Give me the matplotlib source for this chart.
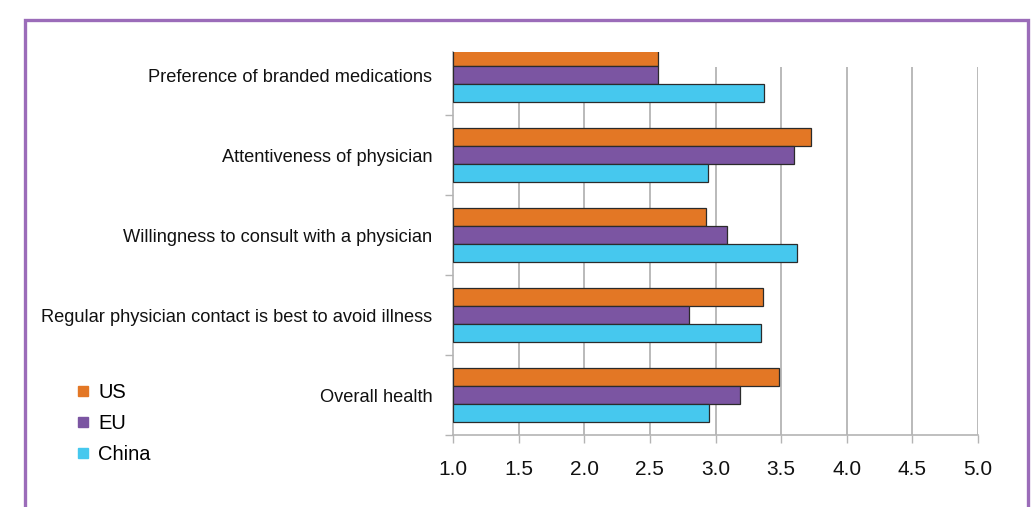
import matplotlib
matplotlib.use("Agg")
import matplotlib.pyplot as plt
from matplotlib.lines import Line2D
import numpy as np

plt.rcParams['font.family'] = ['Liberation Sans', 'DejaVu Sans']

categories = [
    "Preference of branded medications",
    "Attentiveness of physician",
    "Willingness to consult with a physician",
    "Regular physician contact is best to avoid illness",
    "Overall health",
]
series_names = ["US", "EU", "China"]
us_values = [2.56, 3.73, 2.93, 3.36, 3.48]
eu_values = [2.56, 3.60, 3.09, 2.80, 3.19]
china_values = [3.37, 2.94, 3.62, 3.35, 2.95]
x_ticks = [1.0, 1.5, 2.0, 2.5, 3.0, 3.5, 4.0, 4.5, 5.0]

colors = ["#E37725", "#7B55A2", "#46C8EE"]
edge = "#2b2b2b"
grid_color = "#b4b4b4"

W, H = 1032, 507
fig = plt.figure(figsize=(W / 100, H / 100), dpi=100)

# axes box in pixel terms: x 453..978, y 52..435
left, right, top, bottom = 453, 978, 52, 435
ax = fig.add_axes([left / W, 1 - bottom / H, (right - left) / W, (bottom - top) / H])

n = len(categories)
y = np.arange(n)
bar_h = 0.225
offsets = [-bar_h, 0.0, bar_h]
for vals, off, c, name in zip([us_values, eu_values, china_values], offsets, colors, series_names):
    ax.barh(y + off, np.array(vals) - 1.0, left=1.0, height=bar_h, color=c,
            edgecolor=edge, linewidth=0.9, zorder=3, label=name)

ax.set_xlim(1.0, 5.0)
ax.set_ylim(n - 0.5, -0.5 + (top - 35) / 80)

# vertical grid lines that stop just below the top of the plotting area
grid_top = -0.5 + (67 - 35) / 80
ax.vlines(x_ticks[1:], n - 0.5, grid_top, colors=grid_color, linewidth=1.3, zorder=1)

ax.set_xticks(x_ticks)
ax.set_xticklabels([f"{t:.1f}" for t in x_ticks], fontsize=15)
ax.tick_params(axis='x', length=6, width=1.0, color=grid_color, pad=12, labelcolor="#111111")

ax.set_yticks(y)
ax.set_yticklabels(categories, fontsize=13.15)
ax.tick_params(axis='y', length=0, pad=15, labelcolor="#111111")
ax.set_yticks(np.arange(n) + 0.5, minor=True)
ax.tick_params(axis='y', which='minor', length=6, width=1.0, color=grid_color)

for s in ['top', 'right']:
    ax.spines[s].set_visible(False)
for s in ['left', 'bottom']:
    ax.spines[s].set_color(grid_color)
    ax.spines[s].set_linewidth(1.2)

handles = [Line2D([], [], marker='s', linestyle='none', markersize=7.5,
                  markerfacecolor=c, markeredgecolor=c) for c in colors]
fig.legend(handles, series_names, loc='upper left',
           bbox_to_anchor=(55 / W, 1 - 365 / H), frameon=False,
           fontsize=14.5, labelspacing=0.6, handletextpad=0.25, handlelength=1.0)

# purple frame around the figure (open at the bottom)
frame_c = "#9B6CB9"
bx0, bx1, by0 = 25 / W, 1028 / W, 1 - 20 / H
fig.add_artist(Line2D([bx0, bx0, bx1, bx1], [0, by0, by0, 0], color=frame_c,
                      linewidth=2.4, transform=fig.transFigure, solid_joinstyle='miter'))

fig.savefig("out.png", dpi=100)
